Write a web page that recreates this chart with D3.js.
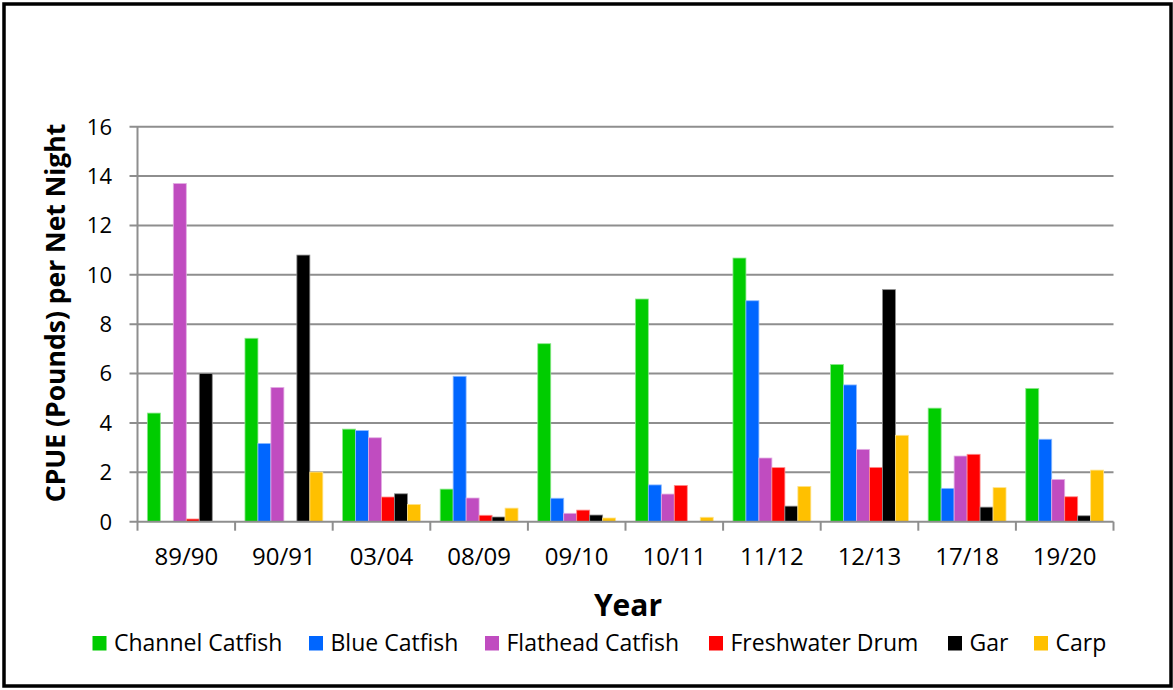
<!DOCTYPE html>
<html>
<head>
<meta charset="utf-8">
<script src="https://cdn.jsdelivr.net/npm/d3@7"></script>
<style>
  html, body { margin: 0; padding: 0; background: #fff; }
  svg { display: block; }
  text { font-family: "Open Sans", "Noto Sans", sans-serif; fill: #000; }
</style>
</head>
<body>
<svg id="chart" width="1173" height="690"></svg>
<script>
// Survey years (x categories)
const years = ["89/90", "90/91", "03/04", "08/09", "09/10", "10/11", "11/12", "12/13", "17/18", "19/20"];

// Species (series) and their fill colours
const species = ["Channel Catfish", "Blue Catfish", "Flathead Catfish", "Freshwater Drum", "Gar", "Carp"];
const colors = ["#00cc00", "#0066ff", "#c04cc0", "#ff0000", "#000000", "#ffc000"];

// CPUE (pounds per net night) per species, one value per year
const channelCatfish = [4.4, 7.43, 3.75, 1.32, 7.21, 9.02, 10.68, 6.37, 4.6, 5.4];
const blueCatfish    = [0, 3.17, 3.69, 5.89, 0.95, 1.49, 8.95, 5.54, 1.35, 3.34];
const flatheadCatfish= [13.7, 5.44, 3.4, 0.96, 0.34, 1.12, 2.58, 2.93, 2.66, 1.71];
const freshwaterDrum = [0.11, 0, 1.0, 0.26, 0.47, 1.47, 2.19, 2.2, 2.73, 1.01];
const gar            = [6.0, 10.8, 1.13, 0.19, 0.27, 0, 0.63, 9.4, 0.59, 0.24];
const carp           = [0, 2.01, 0.7, 0.55, 0.15, 0.18, 1.43, 3.5, 1.38, 2.09];

// Y-axis tick values
const yTicks = [0, 2, 4, 6, 8, 10, 12, 14, 16];

const seriesValues = [channelCatfish, blueCatfish, flatheadCatfish, freshwaterDrum, gar, carp];

const svg = d3.select("#chart");

// Outer frame
svg.append("rect")
  .attr("x", 4).attr("y", 4)
  .attr("width", 1167).attr("height", 682)
  .attr("fill", "#fff")
  .attr("stroke", "#000")
  .attr("stroke-width", 3.5);

const plot = { left: 137.5, right: 1113.5, top: 126.7, bottom: 521.7 };

const x0 = d3.scaleBand()
  .domain(years)
  .range([plot.left, plot.right])
  .padding(0);

const x1 = d3.scaleBand()
  .domain(species)
  .range([0, x0.bandwidth()])
  .paddingInner(0)
  .paddingOuter(0.76);

const y = d3.scaleLinear()
  .domain([0, 16])
  .range([plot.bottom, plot.top]);

const gridColor = "#8e8e8e";

// Horizontal gridlines with short ticks to the left of the axis
const grid = svg.append("g");
grid.selectAll("line.grid")
  .data(yTicks.filter(d => d > 0))
  .join("line")
  .attr("class", "grid")
  .attr("x1", plot.left - 8).attr("x2", plot.right)
  .attr("y1", d => y(d)).attr("y2", d => y(d))
  .attr("stroke", gridColor)
  .attr("stroke-width", 2);

// Y-axis labels
svg.append("g")
  .selectAll("text")
  .data(yTicks)
  .join("text")
  .attr("x", 112)
  .attr("y", d => y(d))
  .attr("dy", "0.36em")
  .attr("text-anchor", "end")
  .style("font-size", "22px")
  .text(d => d);

// Bars
const groups = svg.append("g")
  .selectAll("g")
  .data(years.map((yr, i) => ({ yr, i })))
  .join("g")
  .attr("transform", d => `translate(${x0(d.yr)},0)`);

groups.selectAll("rect")
  .data(d => species.map((s, k) => ({ s, k, v: seriesValues[k][d.i] })))
  .join("rect")
  .filter(d => d.v > 0)
  .attr("x", d => x1(d.s))
  .attr("y", d => y(d.v))
  .attr("width", x1.bandwidth())
  .attr("height", d => y(0) - y(d.v))
  .attr("fill", d => colors[d.k])
  .attr("stroke", d => d3.interpolateRgb(colors[d.k], "#ffffff")(0.55))
  .attr("stroke-width", 0.8);

// Axis lines
svg.append("line")
  .attr("x1", plot.left).attr("x2", plot.left)
  .attr("y1", plot.top).attr("y2", plot.bottom)
  .attr("stroke", gridColor).attr("stroke-width", 2);
svg.append("line")
  .attr("x1", plot.left - 8).attr("x2", plot.right)
  .attr("y1", plot.bottom).attr("y2", plot.bottom)
  .attr("stroke", gridColor).attr("stroke-width", 2);

// Category separator ticks below the x axis
const sepX = years.map(d => x0(d)).concat([plot.right]);
svg.append("g")
  .selectAll("line")
  .data(sepX)
  .join("line")
  .attr("x1", d => d).attr("x2", d => d)
  .attr("y1", plot.bottom).attr("y2", plot.bottom + 9)
  .attr("stroke", gridColor).attr("stroke-width", 2);

// X-axis labels
svg.append("g")
  .selectAll("text")
  .data(years)
  .join("text")
  .attr("x", d => x0(d) + x0.bandwidth() / 2)
  .attr("y", 565)
  .attr("text-anchor", "middle")
  .style("font-size", "24px")
  .text(d => d);

// Axis titles
svg.append("text")
  .attr("x", 628)
  .attr("y", 616)
  .attr("text-anchor", "middle")
  .style("font-size", "30px")
  .style("font-weight", "bold")
  .text("Year");

svg.append("text")
  .attr("transform", "translate(65,313) rotate(-90)")
  .attr("text-anchor", "middle")
  .style("font-size", "26.5px")
  .style("font-weight", "bold")
  .text("CPUE (Pounds) per Net Night");

// Legend
const legendX = [92.5, 309, 485, 709, 948, 1034];
const legend = svg.append("g")
  .selectAll("g")
  .data(species.map((s, k) => ({ s, k })))
  .join("g")
  .attr("transform", d => `translate(${legendX[d.k]},636)`);

legend.append("rect")
  .attr("width", 14).attr("height", 14.5)
  .attr("fill", d => colors[d.k]);

legend.append("text")
  .attr("x", 21.5)
  .attr("y", 15)
  .style("font-size", "23px")
  .text(d => d.s);
</script>
</body>
</html>
